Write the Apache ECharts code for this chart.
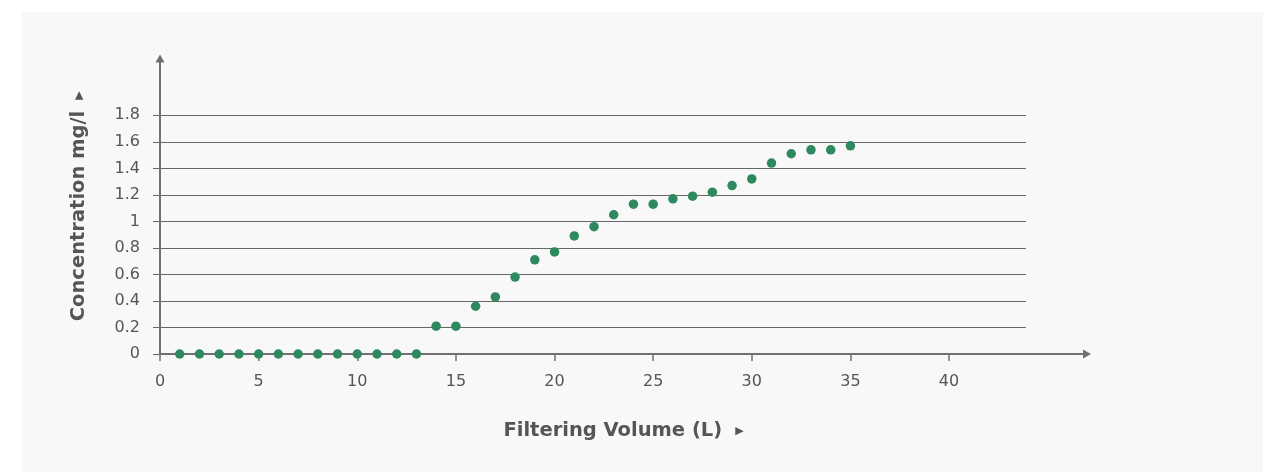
<!DOCTYPE html>
<html><head><meta charset="utf-8">
<script src="https://cdn.jsdelivr.net/npm/echarts@6/dist/echarts.min.js"></script>
<style>
html,body{margin:0;padding:0;background:#fff;}
#panel{position:absolute;left:22px;top:12px;width:1241px;height:460px;background:#f8f8f8;}
#chart{position:absolute;left:0;top:0;width:1265px;height:473px;}
</style></head><body><div id="panel"></div><div id="chart"></div>
<script>
// Data
const volumes = [1,2,3,4,5,6,7,8,9,10,11,12,13,14,15,16,17,18,19,20,21,22,23,24,25,26,27,28,29,30,31,32,33,34,35];
const concentrations = [0,0,0,0,0,0,0,0,0,0,0,0,0,0.21,0.21,0.36,0.43,0.58,0.71,0.77,0.89,0.96,1.05,1.13,1.13,1.17,1.19,1.22,1.27,1.32,1.44,1.51,1.54,1.54,1.57];
const xTickMin = 0, xTickMax = 40, xTickStep = 5;
const yTickMin = 0, yTickMax = 1.8, yTickStep = 0.2;
const xTitle = 'Filtering Volume (L)';
const yTitle = 'Concentration mg/l';

const FONT = 'DejaVu Sans';
const TXT = '#555555';
const chart = echarts.init(document.getElementById('chart'), null, {renderer:'canvas'});
const seriesData = volumes.map((v,i)=>[v, concentrations[i]]);

chart.setOption({
  backgroundColor: 'transparent',
  animation: false,
  grid: [
    {left:160, top:115.3, width:866, height:238.7},   // data + gridlines
    {left:160, top:58.5, width:927, height:295.5},    // axis lines with arrows
    {left:160, top:115.3, width:789, height:238.7}    // x ticks/labels
  ],
  xAxis: [
    {gridIndex:0, type:'value', min:0, max:43.9, show:true,
     axisLine:{show:false}, axisTick:{show:false}, axisLabel:{show:false}, splitLine:{show:false}},
    {gridIndex:1, type:'value', min:0, max:1, 
     axisLine:{show:true, onZero:false, symbol:['none','triangle'], symbolSize:[9,8], lineStyle:{color:'#707070', width:2}},
     axisTick:{show:false}, axisLabel:{show:false}, splitLine:{show:false},
     name: '{t|' + xTitle + '}{a|▶}', nameLocation:'middle', nameGap:67,
     nameTextStyle:{rich:{
       t:{fontFamily:FONT, fontWeight:'bold', fontSize:19.5, color:TXT, verticalAlign:'middle'},
       a:{fontFamily:FONT, fontSize:11, color:TXT, padding:[0,0,0,13], verticalAlign:'middle'}
     }}},
    {gridIndex:2, type:'value', min:xTickMin, max:xTickMax, interval:xTickStep,
     axisLine:{show:false},
     axisTick:{show:true, length:7, lineStyle:{color:'#707070', width:1.5}},
     axisLabel:{show:true, margin:20, fontFamily:FONT, fontSize:16, color:TXT},
     splitLine:{show:false}}
  ],
  yAxis: [
    {gridIndex:0, type:'value', min:yTickMin, max:yTickMax, interval:yTickStep,
     axisLine:{show:false},
     axisTick:{show:true, length:7, lineStyle:{color:'#666666', width:1}},
     axisLabel:{show:true, margin:20, fontFamily:FONT, fontSize:16, color:TXT},
     splitLine:{show:true, lineStyle:{color:'#666666', width:1}}},
    {gridIndex:1, type:'value', min:0, max:1,
     axisLine:{show:true, onZero:false, symbol:['none','triangle'], symbolSize:[9,8], lineStyle:{color:'#707070', width:2}},
     axisTick:{show:false}, axisLabel:{show:false}, splitLine:{show:false},
     name: '{t|' + yTitle + '}{a|▶}', nameLocation:'middle', nameGap:71, nameRotate:90,
     nameTextStyle:{rich:{
       t:{fontFamily:FONT, fontWeight:'bold', fontSize:19.5, color:TXT, verticalAlign:'middle'},
       a:{fontFamily:FONT, fontSize:11, color:TXT, padding:[0,0,0,11], verticalAlign:'middle'}
     }}},
    {gridIndex:2, type:'value', min:0, max:1, show:false}
  ],
  series: [{
    type:'scatter', xAxisIndex:0, yAxisIndex:0,
    data: seriesData, symbolSize:9.5,
    itemStyle:{color:'#2e8a5e', opacity:1},
    z:5
  }]
});
</script></body></html>
